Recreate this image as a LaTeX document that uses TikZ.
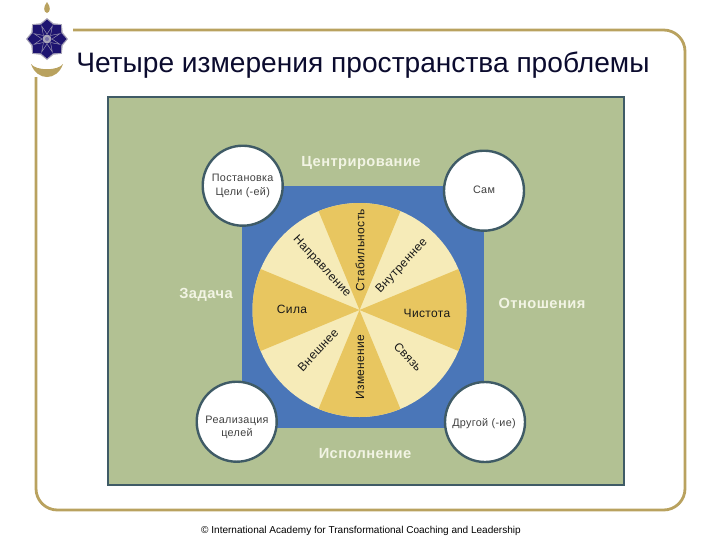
\documentclass[tikz,border=0pt]{standalone}
\usepackage{fontspec}
\setmainfont{Liberation Sans}
\newfontfamily\widefont[LetterSpace=3]{Liberation Sans}
\newfontfamily\smallfont[LetterSpace=3]{Liberation Sans}
\definecolor{framegold}{HTML}{B9A25F}
\definecolor{fieldgreen}{HTML}{B2C193}
\definecolor{squareblue}{HTML}{4A76B8}
\definecolor{wheeldark}{HTML}{E8C660}
\definecolor{wheellight}{HTML}{F6EBB8}
\definecolor{edgeslate}{HTML}{3F5B66}
\definecolor{labelcream}{HTML}{F2F4E4}
\definecolor{titlenavy}{HTML}{0B0B2E}
\definecolor{logonavy}{HTML}{1E1470}
\definecolor{logogray}{HTML}{A8A4B8}
\tikzset{
  sidelabel/.style={text=labelcream,font=\fontsize{11}{13}\selectfont\widefont\bfseries,inner sep=0pt},
  spokelabel/.style={text=black!90,font=\fontsize{9}{11}\selectfont\smallfont,inner sep=0pt},
  dimcircle/.style={circle,draw=edgeslate,line width=1.8pt,fill=white,minimum size=60pt,inner sep=0pt},
  circlelabel/.style={text=black!75,font=\fontsize{8.1}{10}\selectfont\smallfont,inner sep=0pt,align=center},
}
\begin{document}
\begin{tikzpicture}[x=0.75pt,y=-0.75pt]
\useasboundingbox (0,0) rectangle (720,540);
\fill[white] (0,0) rectangle (720,540);
% frame
\draw[framegold,line width=2.1pt,rounded corners=16pt] (73,30) -| (685,510) -| (36,77);
% logo
\fill[framegold] (47,2) .. controls (43,7) and (43.5,12) .. (47,13) .. controls (50.5,12) and (51,7) .. (47,2);
\fill[framegold] (31,64) .. controls (36,71) and (58,71) .. (63,64) .. controls (60,73) and (53,77) .. (47,77) .. controls (41,77) and (34,73) .. (31,64);
\begin{scope}[shift={(47,39)}]
  \fill[logogray] (0:21)--(22.5:17)--(45:21)--(67.5:17)--(90:21)--(112.5:17)--(135:21)--(157.5:17)--(180:21)--(202.5:17)--(225:21)--(247.5:17)--(270:21)--(292.5:17)--(315:21)--(337.5:17)--cycle;
  \fill[logonavy] (0:19.5)--(22.5:15.5)--(45:19.5)--(67.5:15.5)--(90:19.5)--(112.5:15.5)--(135:19.5)--(157.5:15.5)--(180:19.5)--(202.5:15.5)--(225:19.5)--(247.5:15.5)--(270:19.5)--(292.5:15.5)--(315:19.5)--(337.5:15.5)--cycle;
  \foreach \a in {0,45,...,315}{\draw[logogray,line width=0.3pt] (\a:5)--(\a+22.5:14)--(\a+45:5);}
  \fill[logogray] (0,0) circle[radius=4.5];
  \fill[logonavy!60!white] (0,0) circle[radius=2];
\end{scope}
% title
\node[anchor=west,inner sep=0pt,text=titlenavy,font=\fontsize{21.1}{25}\selectfont] (title) at (76,65) {Четыре измерения пространства проблемы};
% field
\node[draw=edgeslate,line width=1.2pt,fill=fieldgreen,minimum width=387pt,minimum height=291pt,inner sep=0pt,anchor=north west] (field) at (107,96) {};
\node[fill=squareblue,minimum size=181.5pt,inner sep=0pt,anchor=north west] (square) at (242,186) {};
% wheel
\begin{scope}[shift={(359.5,310)},x=0.75pt,y=0.75pt]
  \fill[wheellight] (0,0) circle[radius=107];
  \foreach \a in {90,180,270,360}{
    \fill[wheeldark] (0,0) -- (\a-22.5:107) arc[start angle=\a-22.5,end angle=\a+22.5,radius=107] -- cycle;
  }
\end{scope}
% wheel labels
\node[spokelabel,rotate=90] (stab) at (360,250) {Стабильность};
\node[spokelabel,rotate=-47] (napr) at (321.7,266.7) {Направление};
\node[spokelabel,rotate=47] (vnut) at (402,266) {Внутреннее};
\node[spokelabel] (sila) at (292,309.5) {Сила};
\node[spokelabel] (chist) at (427,313.5) {Чистота};
\node[spokelabel,rotate=47] (vnesh) at (318,350) {Внешнее};
\node[spokelabel,rotate=90] (izm) at (360,367) {Изменение};
\node[spokelabel,rotate=-47] (svyaz) at (408,357) {Связь};
% corner circles
\node[dimcircle] (ctl) at (242.7,185.7) {};
\node[dimcircle] (ctr) at (484,190.7) {};
\node[dimcircle] (cbl) at (236.7,421.7) {};
\node[dimcircle] (cbr) at (485,422) {};
\node[circlelabel] (ltl) at (242.7,186) {Постановка\\Цели (-ей)};
\node[circlelabel] (ltr) at (484,190) {Сам};
\node[circlelabel] (lbl) at (237,427.5) {Реализация\\целей};
\node[circlelabel] (lbr) at (484,423.5) {Другой (-ие)};
% side labels
\node[sidelabel] (centr) at (361,162.5) {Центрирование};
\node[sidelabel] (task) at (206,294.5) {Задача};
\node[sidelabel] (rel) at (542,303.5) {Отношения};
\node[sidelabel] (exec) at (365,453.5) {Исполнение};
% footer
\node[inner sep=0pt,text=black,font=\fontsize{7.53}{9}\selectfont] (foot) at (361,530.5) {© International Academy for Transformational Coaching and Leadership};
\end{tikzpicture}
\end{document}
